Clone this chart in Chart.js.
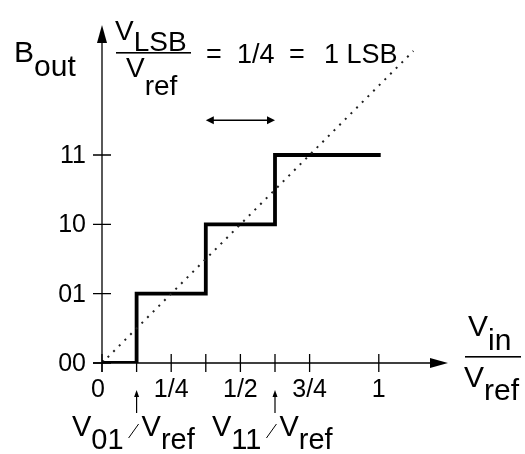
<!DOCTYPE html>
<html>
<head>
<meta charset="utf-8">
<script src="https://cdn.jsdelivr.net/npm/chart.js@4"></script>
<style>
  html, body { margin: 0; padding: 0; background: #fff; }
  #wrap { width: 525px; height: 454px; }
</style>
</head>
<body>
<div id="wrap"><canvas id="adc" width="525" height="454"></canvas></div>
<script>
// transfer curve of a 2-bit ADC
const codeLabels = ['00', '01', '10', '11'];
const codeValues = [0, 1, 2, 3];
const stepX = [0, 1/8, 3/8, 5/8, 1];       // where each code starts, plus the end
const stepY = [0, 1, 2, 3, 3];
const idealX = [0, 1.125];
const idealY = [0, 4.5];
const xTickMarks = [0, 1/8, 1/4, 3/8, 1/2, 5/8, 3/4, 1];
const xLabelValues = [0, 1/4, 1/2, 3/4, 1];
const xLabelText = ['0', '1/4', '1/2', '3/4', '1'];
const lsbSpan = [3/8, 5/8];
const lsbLevel = 3.5;
const thresholdMarks = [1/8, 5/8];

const FONT = '"Liberation Sans", Arial, sans-serif';

function arrowHead(ctx, x, y, dir, len, half) {
  // dir: unit vector the arrow points to
  const [dx, dy] = dir;
  ctx.beginPath();
  ctx.moveTo(x, y);
  ctx.lineTo(x - dx * len - dy * half, y - dy * len + dx * half);
  ctx.lineTo(x - dx * len + dy * half, y - dy * len - dx * half);
  ctx.closePath();
  ctx.fill();
}

function subText(ctx, main, sub, x, y, size, drop) {
  ctx.font = size + 'px ' + FONT;
  ctx.fillText(main, x, y);
  const w = ctx.measureText(main).width;
  ctx.fillText(sub, x + w, y + drop);
  return x + w + ctx.measureText(sub).width;
}

const axesPlugin = {
  id: 'axesPlugin',
  afterDraw(chart) {
    const ctx = chart.ctx;
    const xs = chart.scales.x, ys = chart.scales.y;
    const x0 = xs.getPixelForValue(0), y0 = ys.getPixelForValue(0);
    const right = chart.chartArea.right, top = chart.chartArea.top;
    ctx.save();
    ctx.strokeStyle = '#000';
    ctx.fillStyle = '#000';
    ctx.lineWidth = 1.3;

    // axes
    ctx.beginPath();
    ctx.moveTo(x0, y0 + 9); ctx.lineTo(x0, top + 10);
    ctx.moveTo(x0 - 9, y0); ctx.lineTo(right - 10, y0);
    ctx.stroke();
    arrowHead(ctx, x0, top, [0, -1], 18, 5);
    arrowHead(ctx, right, y0, [1, 0], 18, 5);

    // tick marks
    ctx.beginPath();
    xTickMarks.forEach(v => {
      const px = xs.getPixelForValue(v);
      ctx.moveTo(px, y0 - 9); ctx.lineTo(px, y0 + 9);
    });
    codeValues.forEach(v => {
      const py = ys.getPixelForValue(v);
      ctx.moveTo(x0 - 9, py); ctx.lineTo(x0 + 9, py);
    });
    ctx.stroke();

    // tick labels
    ctx.font = '25px ' + FONT;
    ctx.textAlign = 'center';
    ctx.textBaseline = 'alphabetic';
    xLabelValues.forEach((v, i) => {
      ctx.fillText(xLabelText[i], xs.getPixelForValue(v) - (v === 0 ? 4 : 0), y0 + 34);
    });
    ctx.textAlign = 'right';
    ctx.textBaseline = 'middle';
    codeValues.forEach((v, i) => {
      ctx.fillText(codeLabels[i], x0 - 16, ys.getPixelForValue(v) + 1);
    });

    // 1 LSB double arrow
    const la = xs.getPixelForValue(lsbSpan[0]), lb = xs.getPixelForValue(lsbSpan[1]);
    const ly = ys.getPixelForValue(lsbLevel);
    ctx.lineWidth = 1.5;
    ctx.beginPath();
    ctx.moveTo(la + 6, ly); ctx.lineTo(lb - 6, ly);
    ctx.stroke();
    arrowHead(ctx, la, ly, [-1, 0], 8, 4);
    arrowHead(ctx, lb, ly, [1, 0], 8, 4);

    // threshold pointers under the x axis
    thresholdMarks.forEach(v => {
      const px = xs.getPixelForValue(v);
      ctx.lineWidth = 1.2;
      ctx.beginPath();
      ctx.moveTo(px, y0 + 50); ctx.lineTo(px, y0 + 32);
      ctx.stroke();
      arrowHead(ctx, px, y0 + 27, [0, -1], 7, 2.5);
    });

    // labels
    ctx.textAlign = 'left';
    ctx.textBaseline = 'alphabetic';
    subText(ctx, 'B', 'out', 14, 62, 30, 14);

    // V_LSB / V_ref
    subText(ctx, 'V', 'LSB', 115, 40, 28, 11);
    ctx.fillRect(116, 52, 75, 1.6);
    subText(ctx, 'V', 'ref', 126, 77, 28, 18);

    ctx.font = '27px ' + FONT;
    ctx.fillText('=', 206, 63);
    ctx.fillText('1/4', 237, 63);
    ctx.fillText('=', 289, 63);
    ctx.fillText('1 LSB', 324, 63);

    // V_in / V_ref
    subText(ctx, 'V', 'in', 468, 336, 30, 14);
    ctx.fillRect(465, 356, 56, 1.6);
    subText(ctx, 'V', 'ref', 464, 387, 30, 13);

    // V01/Vref and V11/Vref
    const bottomLabel = (x, code) => {
      let e = subText(ctx, 'V', code, x, 436, 29, 13);
      ctx.lineWidth = 1;
      ctx.beginPath();
      ctx.moveTo(e + 5, 438); ctx.lineTo(e + 15, 424);
      ctx.stroke();
      subText(ctx, 'V', 'ref', e + 18, 436, 29, 13);
    };
    bottomLabel(72, '01');
    bottomLabel(212, '11');
    ctx.restore();
  }
};

new Chart(document.getElementById('adc'), {
  type: 'line',
  data: {
    datasets: [
      {
        data: idealX.map((x, i) => ({ x, y: idealY[i] })),
        borderColor: '#222',
        borderWidth: 2,
        borderDash: [2, 6],
        pointRadius: 0,
        fill: false
      },
      {
        data: stepX.map((x, i) => ({ x, y: stepY[i] })),
        stepped: 'before',
        borderColor: '#000',
        borderWidth: 3.8,
        borderCapStyle: 'square',
        pointRadius: stepX.map((x, i) => (i === 0 ? 3 : 0)),
        pointBackgroundColor: '#000',
        pointBorderWidth: 0,
        fill: false
      }
    ]
  },
  options: {
    responsive: false,
    animation: false,
    events: [],
    layout: { padding: { left: 102, right: 77, top: 25, bottom: 91 } },
    plugins: { legend: { display: false }, tooltip: { enabled: false } },
    scales: {
      x: { type: 'linear', min: 0, max: 1.25, display: false },
      y: { type: 'linear', min: 0, max: 4.875, display: false }
    }
  },
  plugins: [axesPlugin]
});
</script>
</body>
</html>
